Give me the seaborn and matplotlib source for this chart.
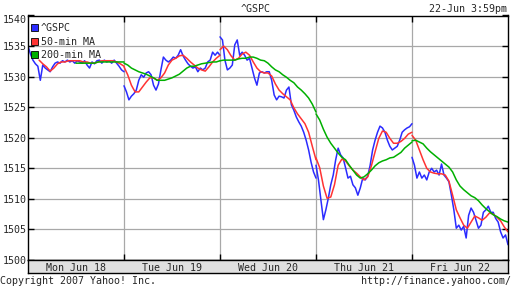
import numpy as np
import pandas as pd
import matplotlib
matplotlib.use("Agg")
import matplotlib.pyplot as plt
import seaborn as sns
from matplotlib.patches import Patch

# ---------------- data ----------------
day_labels = ["Mon Jun 18", "Tue Jun 19", "Wed Jun 20", "Thu Jun 21", "Fri Jun 22"]
price_minutes = list(range(0, 391, 10))   # minutes after the open
ma_minutes = list(range(0, 391, 15))
nan = float("nan")

gspc_mon = [1535.0, 1533.7, 1532.7, 1532.1, 1531.7, 1529.4, 1531.9, 1531.4, 1531.1, 1530.8,
            1531.6, 1532.2, 1532.4, 1532.2, 1532.6, 1532.4, 1532.7, 1532.4, 1532.6, 1532.2,
            1532.6, 1532.4, 1532.2, 1532.6, 1531.9, 1531.4, 1532.4, 1532.1, 1532.6, 1532.7,
            1532.2, 1532.7, 1532.4, 1532.6, 1532.2, 1532.7, 1532.2, 1531.7, 1531.1, 1530.8]
gspc_tue = [1528.5, 1527.5, 1526.2, 1526.8, 1527.2, 1527.8, 1529.4, 1530.3, 1529.9, 1530.6,
            1530.8, 1530.3, 1528.6, 1527.8, 1528.8, 1531.1, 1533.2, 1532.7, 1532.4, 1532.7,
            1533.2, 1533.0, 1533.5, 1534.4, 1533.4, 1532.7, 1532.1, 1531.7, 1531.4, 1531.6,
            1530.8, 1531.4, 1531.1, 1531.4, 1532.4, 1532.7, 1534.0, 1533.5, 1534.0, 1533.5]
gspc_wed = [1536.5, 1536.0, 1532.7, 1531.1, 1531.4, 1531.9, 1535.2, 1536.0, 1533.5, 1534.0,
            1533.5, 1532.7, 1533.0, 1531.4, 1529.8, 1528.6, 1530.6, 1530.8, 1530.6, 1530.8,
            1530.8, 1529.4, 1527.0, 1526.2, 1526.8, 1526.7, 1526.5, 1527.8, 1528.3, 1525.4,
            1524.5, 1523.4, 1522.6, 1521.9, 1520.9, 1519.6, 1518.0, 1516.0, 1514.4, 1513.4]
gspc_thu = [1515.5, 1513.1, 1509.8, 1506.6, 1508.2, 1510.1, 1512.3, 1513.9, 1516.4, 1518.3,
            1517.2, 1516.7, 1515.1, 1513.4, 1513.7, 1512.3, 1511.8, 1510.6, 1511.8, 1513.4,
            1513.1, 1513.7, 1515.5, 1518.0, 1519.6, 1520.9, 1521.9, 1521.6, 1520.9, 1519.6,
            1518.6, 1518.0, 1518.3, 1518.6, 1519.6, 1520.9, 1521.3, 1521.6, 1521.8, 1522.3]
gspc_fri = [1516.8, 1515.5, 1513.4, 1514.4, 1513.4, 1513.9, 1513.1, 1514.4, 1515.0, 1514.4,
            1514.7, 1513.9, 1515.7, 1513.9, 1513.4, 1512.8, 1510.6, 1508.2, 1505.2, 1505.7,
            1504.9, 1505.5, 1503.6, 1507.3, 1508.5, 1507.8, 1506.5, 1505.2, 1505.7, 1507.8,
            1508.2, 1508.8, 1507.8, 1507.8, 1506.8, 1506.2, 1504.6, 1503.6, 1504.1, 1502.5]

ma50_mon = [nan, nan, nan, 1532.7, 1532.1, 1531.6, 1530.9, 1531.4, 1532.1, 1532.4, 1532.4, 1532.6,
            1532.6, 1532.6, 1532.6, 1532.4, 1532.4, 1532.2, 1532.2, 1532.4, 1532.6, 1532.6,
            1532.6, 1532.6, 1532.4, 1532.1, 1531.7]
ma50_tue = [1531.6, 1530.3, 1528.6, 1527.5, 1527.5, 1528.3, 1529.1, 1529.8, 1529.8, 1529.4,
            1529.8, 1530.6, 1531.9, 1532.7, 1533.0, 1533.4, 1533.5, 1533.0, 1532.4, 1531.9,
            1531.4, 1531.1, 1530.9, 1531.6, 1532.4, 1533.0, 1533.5]
ma50_wed = [1534.4, 1535.0, 1534.4, 1533.4, 1532.7, 1533.0, 1533.7, 1534.0, 1533.5, 1532.4,
            1531.4, 1530.8, 1530.6, 1530.6, 1530.1, 1528.8, 1527.8, 1527.2, 1526.7, 1526.2,
            1524.9, 1523.9, 1523.1, 1522.3, 1520.9, 1518.6, 1516.4]
ma50_thu = [1516.7, 1515.1, 1512.1, 1510.1, 1510.3, 1512.3, 1515.5, 1516.5, 1516.2, 1515.4,
            1514.7, 1514.2, 1513.6, 1513.1, 1513.6, 1515.4, 1517.7, 1519.9, 1521.1, 1520.9,
            1519.9, 1519.1, 1519.1, 1519.4, 1519.9, 1520.6, 1520.9]
ma50_fri = [1520.4, 1519.6, 1518.0, 1516.4, 1515.0, 1514.4, 1514.2, 1514.1, 1514.1, 1513.9,
            1512.9, 1510.6, 1508.2, 1506.9, 1505.7, 1505.2, 1506.2, 1507.2, 1506.9, 1506.5,
            1507.0, 1507.7, 1507.5, 1507.0, 1506.4, 1505.4, 1504.6]

ma200_mon = [nan] * 13 + [1532.2, 1532.2, 1532.2, 1532.2, 1532.2, 1532.2,
                          1532.4, 1532.4, 1532.4, 1532.4, 1532.4, 1532.4, 1532.4, 1532.4]
ma200_tue = [1532.2, 1531.9, 1531.4, 1531.1, 1530.8, 1530.6, 1530.4, 1530.1, 1529.8, 1529.4,
             1529.4, 1529.4, 1529.6, 1529.8, 1530.1, 1530.4, 1530.9, 1531.4, 1531.7, 1531.7,
             1531.9, 1532.1, 1532.2, 1532.3, 1532.4, 1532.4, 1532.6]
ma200_wed = [1532.6, 1532.7, 1532.7, 1532.7, 1532.7, 1532.9, 1533.0, 1533.0, 1533.2, 1533.2,
             1533.0, 1532.7, 1532.6, 1532.2, 1531.6, 1531.1, 1530.8, 1530.3, 1529.9, 1529.4,
             1529.0, 1528.3, 1527.8, 1527.2, 1526.5, 1525.5, 1524.2]
ma200_thu = [1523.9, 1522.9, 1521.4, 1520.1, 1519.1, 1518.3, 1517.5, 1516.8, 1516.4, 1515.5,
             1514.7, 1513.9, 1513.4, 1513.6, 1514.1, 1514.7, 1515.4, 1515.9, 1516.2, 1516.4,
             1516.7, 1516.8, 1517.2, 1517.6, 1518.3, 1518.8, 1519.3]
ma200_fri = [1519.5, 1519.6, 1519.3, 1519.0, 1518.3, 1517.7, 1517.2, 1516.7, 1516.2, 1515.7,
             1515.2, 1514.4, 1513.1, 1512.1, 1511.5, 1511.0, 1510.5, 1510.2, 1509.7, 1509.0,
             1508.4, 1507.9, 1507.4, 1507.1, 1506.7, 1506.4, 1506.2]

series_names = ["^GSPC", "50-min MA", "200-min MA"]
series_colors = ["#2b2bff", "#ff3333", "#00b000"]
y_ticks = [1500, 1505, 1510, 1515, 1520, 1525, 1530, 1535, 1540]

gspc_days = [gspc_mon, gspc_tue, gspc_wed, gspc_thu, gspc_fri]
ma50_days = [ma50_mon, ma50_tue, ma50_wed, ma50_thu, ma50_fri]
ma200_days = [ma200_mon, ma200_tue, ma200_wed, ma200_thu, ma200_fri]

rows = []
for name, days, mins in [(series_names[0], gspc_days, price_minutes),
                         (series_names[1], ma50_days, ma_minutes),
                         (series_names[2], ma200_days, ma_minutes)]:
    for d, vals in enumerate(days):
        for m, v in zip(mins, vals):
            rows.append({"series": name, "day": d, "t": d + m / 390.0, "value": v})
df = pd.DataFrame(rows)

# ---------------- style ----------------
sns.set_style("white")
plt.rcParams["font.family"] = ["DejaVu Sans Mono"]
FS = 7.2

W, H = 512, 288
fig = plt.figure(figsize=(W / 100, H / 100), dpi=100)
ax = fig.add_axes([28 / W, 28 / H, 480 / W, 244.5 / H])

for name, color in zip(series_names, series_colors):
    sub = df[df["series"] == name].dropna()
    sns.lineplot(data=sub, x="t", y="value", units="day", estimator=None,
                 color=color, linewidth=1.1, sort=False, legend=False, ax=ax)

ax.set_xlim(0, 5)
ax.set_ylim(1500, 1540)
ax.set_xlabel("")
ax.set_ylabel("")
ax.set_xticks([1, 2, 3, 4])
ax.set_xticklabels([])
ax.set_yticks(y_ticks)
ax.set_yticklabels([str(v) for v in y_ticks], fontsize=FS)
lbls = ax.get_yticklabels()
lbls[-1].set_va("top")
ax.tick_params(axis="x", direction="in", length=4, width=1, color="black",
               top=True, bottom=True)
ax.tick_params(axis="y", direction="in", length=4, width=1, color="black",
               left=True, right=True, pad=1, labelsize=FS)
ax.grid(True, color="#a8a8a8", linewidth=0.9)
ax.set_axisbelow(True)
for s in ax.spines.values():
    s.set_color("black")
    s.set_linewidth(1.0)

handles = [Patch(facecolor=c, edgecolor="black", linewidth=0.6) for c in series_colors]
ax.legend(handles, series_names, loc="upper left", bbox_to_anchor=(0.006, 0.968),
          frameon=False, fontsize=FS, handlelength=0.7, handleheight=0.7,
          handletextpad=0.3, labelspacing=0.32, borderpad=0, borderaxespad=0)

# date band
band = fig.add_axes([28 / W, 15 / H, 480 / W, 13 / H])
band.set_facecolor("#e0e0e0")
band.set_xlim(0, 5)
band.set_ylim(0, 1)
band.set_xticks([])
band.set_yticks([])
for s in band.spines.values():
    s.set_color("black")
    s.set_linewidth(1.0)
for d, lab in enumerate(day_labels):
    band.text(d + 0.5, 0.18, lab, ha="center", va="baseline", fontsize=FS)

fig.text(256 / W, 1 - 12.5 / H, "^GSPC", ha="center", va="baseline", fontsize=FS)
fig.text(507 / W, 1 - 12.5 / H, "22-Jun 3:59pm", ha="right", va="baseline", fontsize=FS)
fig.text(0, 1 - 284 / H, "Copyright 2007 Yahoo! Inc.", ha="left", va="baseline", fontsize=FS)
fig.text(511 / W, 1 - 284 / H, "http://finance.yahoo.com/", ha="right", va="baseline", fontsize=FS)

fig.savefig("out.png", dpi=100, facecolor="white")
